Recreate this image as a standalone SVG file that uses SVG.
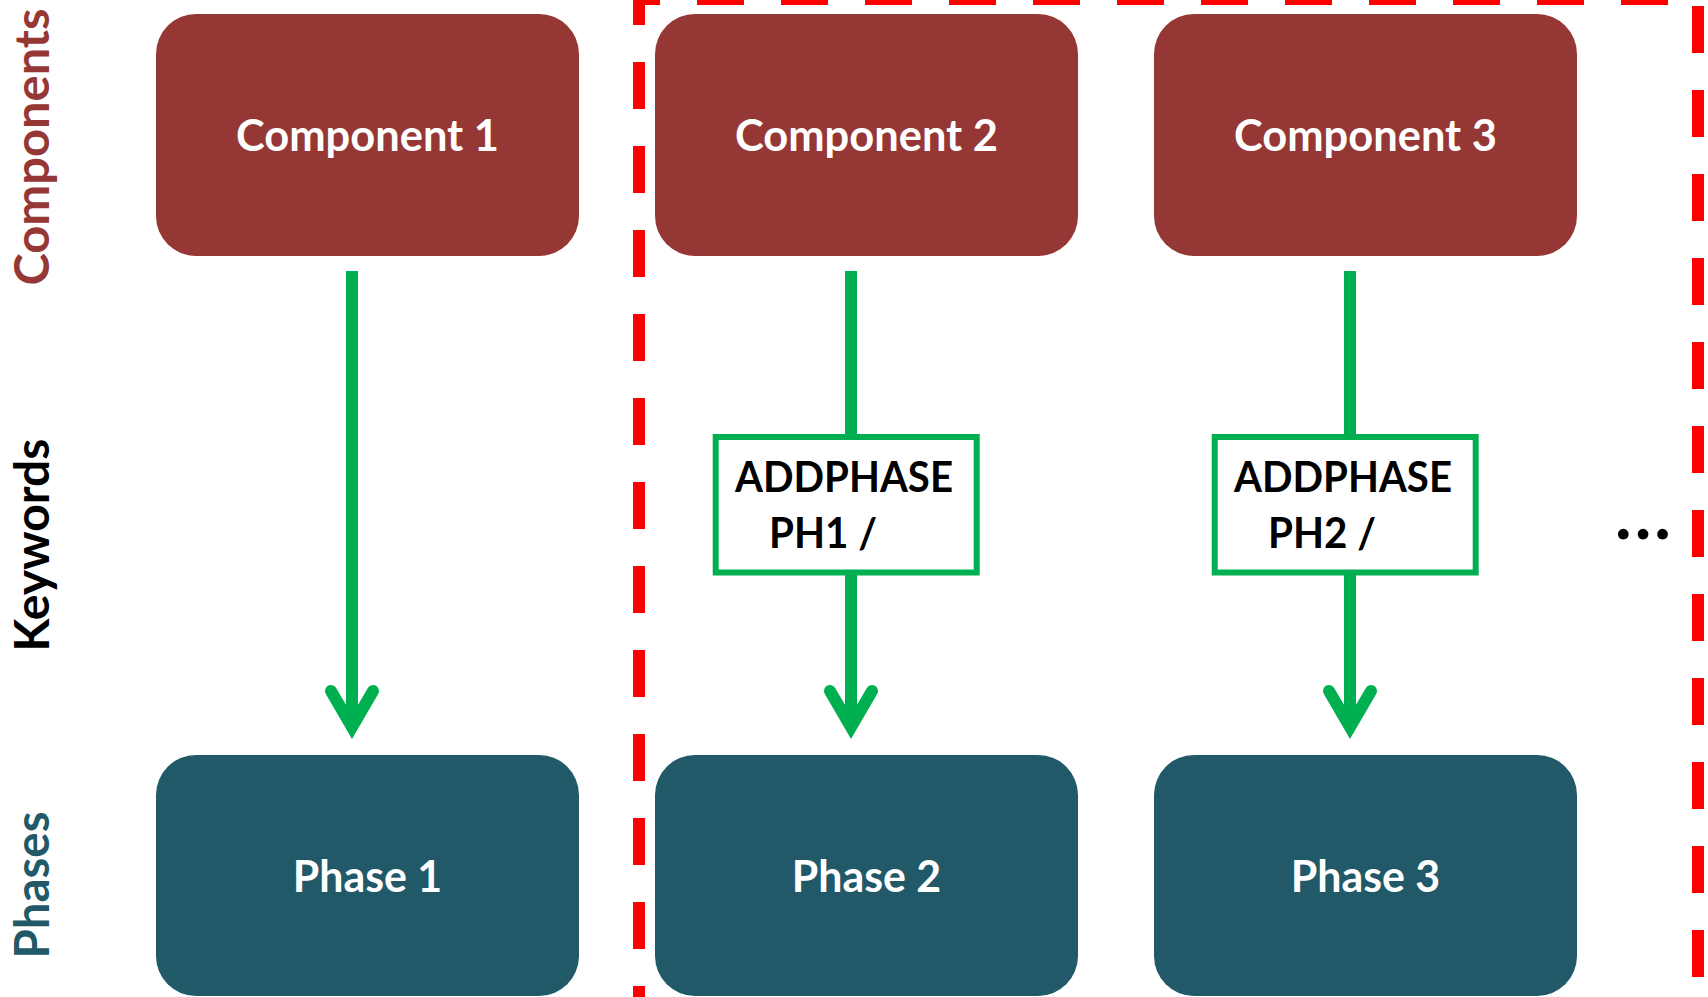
<svg xmlns="http://www.w3.org/2000/svg" width="1708" height="997" viewBox="0 0 1708 997">
  <style>
    .label { font-family: Lato, "Open Sans", "Liberation Sans", sans-serif; font-weight: bold; }
    .component rect { fill: #953735; }
    .phase rect { fill: #215968; }
    .node-text { fill: #ffffff; font-size: 43px; text-anchor: middle; }
    .keyword rect { fill: #ffffff; stroke: #00B050; stroke-width: 6; }
    .keyword text { fill: #000000; font-size: 42px; }
    .side { font-size: 47px; text-anchor: middle; }
    .flow { stroke: #00B050; stroke-width: 12; fill: none; marker-end: url(#openArrow); }
    .frame { stroke: #FF0000; stroke-width: 12; fill: none; stroke-dasharray: 47 37; }
  </style>
  <defs>
    <marker id="openArrow" markerUnits="userSpaceOnUse" orient="auto" refX="0" refY="0" overflow="visible">
      <path d="M -36 -21 L 0 0 L -36 21" fill="none" stroke="#00B050" stroke-width="12" stroke-linecap="round" stroke-linejoin="miter"/>
    </marker>
  </defs>

  <rect width="1708" height="997" fill="#ffffff"/>

  <!-- row captions -->
  <g id="caption-components">
    <text class="label side" fill="#953735" transform="translate(49,147) rotate(-90)" textLength="277" lengthAdjust="spacingAndGlyphs">Components</text>
  </g>
  <g id="caption-keywords">
    <text class="label side" fill="#000000" transform="translate(49,545) rotate(-90)" textLength="213" lengthAdjust="spacingAndGlyphs">Keywords</text>
  </g>
  <g id="caption-phases">
    <text class="label side" fill="#215968" transform="translate(49,885) rotate(-90)" textLength="147" lengthAdjust="spacingAndGlyphs">Phases</text>
  </g>

  <!-- dashed frame around the added phases -->
  <g id="frame">
    <line class="frame" x1="639" y1="-7" x2="639" y2="1004" stroke-dashoffset="15"/>
    <line class="frame" x1="633" y1="-1" x2="1704" y2="-1" stroke-dashoffset="20"/>
    <line class="frame" x1="1698" y1="-1" x2="1698" y2="1004" stroke-dashoffset="77"/>
  </g>

  <!-- components -->
  <g id="component-1" class="component">
    <rect x="156" y="14" width="423" height="242" rx="40"/>
    <text class="label node-text" x="367.5" y="151" textLength="263" lengthAdjust="spacingAndGlyphs">Component 1</text>
  </g>
  <g id="component-2" class="component">
    <rect x="655" y="14" width="423" height="242" rx="40"/>
    <text class="label node-text" x="866.5" y="151" textLength="263" lengthAdjust="spacingAndGlyphs">Component 2</text>
  </g>
  <g id="component-3" class="component">
    <rect x="1154" y="14" width="423" height="242" rx="40"/>
    <text class="label node-text" x="1365.5" y="151" textLength="263" lengthAdjust="spacingAndGlyphs">Component 3</text>
  </g>

  <!-- connectors -->
  <g id="connectors">
    <line class="flow" x1="352" y1="271" x2="352" y2="727"/>
    <line class="flow" x1="851" y1="271" x2="851" y2="727"/>
    <line class="flow" x1="1350" y1="271" x2="1350" y2="727"/>
  </g>

  <!-- keywords -->
  <g id="keyword-ph1" class="keyword">
    <rect x="715.7" y="437" width="261" height="135.5"/>
    <text class="label" x="735" y="492" textLength="218" lengthAdjust="spacingAndGlyphs">ADDPHASE</text>
    <text class="label" x="769" y="548" textLength="108" lengthAdjust="spacingAndGlyphs">PH1 /</text>
  </g>
  <g id="keyword-ph2" class="keyword">
    <rect x="1214.7" y="437" width="261" height="135.5"/>
    <text class="label" x="1234" y="492" textLength="218" lengthAdjust="spacingAndGlyphs">ADDPHASE</text>
    <text class="label" x="1268" y="548" textLength="108" lengthAdjust="spacingAndGlyphs">PH2 /</text>
  </g>

  <!-- phases -->
  <g id="phase-1" class="phase">
    <rect x="156" y="755" width="423" height="241" rx="40"/>
    <text class="label node-text" x="367.5" y="892" textLength="149.5" lengthAdjust="spacingAndGlyphs">Phase 1</text>
  </g>
  <g id="phase-2" class="phase">
    <rect x="655" y="755" width="423" height="241" rx="40"/>
    <text class="label node-text" x="866.5" y="892" textLength="149.5" lengthAdjust="spacingAndGlyphs">Phase 2</text>
  </g>
  <g id="phase-3" class="phase">
    <rect x="1154" y="755" width="423" height="241" rx="40"/>
    <text class="label node-text" x="1365.5" y="892" textLength="149.5" lengthAdjust="spacingAndGlyphs">Phase 3</text>
  </g>

  <!-- more phases follow -->
  <g id="ellipsis">
    <text class="label" x="1615" y="539" font-size="70" letter-spacing="3" fill="#000000">...</text>
  </g>
</svg>
